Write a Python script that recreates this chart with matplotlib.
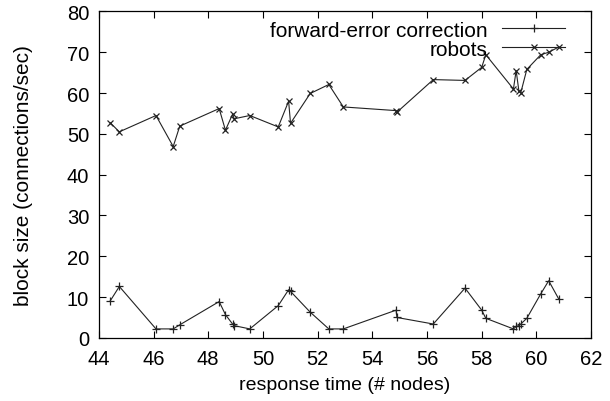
import numpy as np
import matplotlib
matplotlib.use('Agg')
import matplotlib.pyplot as plt

plt.rcParams['font.family'] = ['Liberation Sans', 'DejaVu Sans']

# datos
x = [44.42, 44.75, 46.09, 46.72, 46.96, 48.40, 48.63, 48.89, 48.95, 49.52,
     50.56, 50.94, 51.01, 51.73, 52.41, 52.94, 54.87, 54.90, 56.23, 57.39,
     58.00, 58.15, 59.16, 59.26, 59.36, 59.43, 59.65, 60.16, 60.45, 60.82]
fec = [9.1, 12.6, 2.2, 2.2, 3.2, 8.9, 5.7, 3.4, 3.0, 2.2,
       7.9, 11.8, 11.4, 6.3, 2.2, 2.2, 6.8, 5.0, 3.4, 12.2,
       6.8, 4.8, 2.2, 2.8, 3.0, 3.4, 4.8, 10.8, 14.0, 9.5]
robots = [52.7, 50.5, 54.5, 46.9, 51.9, 56.2, 50.9, 54.8, 53.7, 54.5,
          51.7, 58.0, 52.6, 59.9, 62.1, 56.6, 55.7, 55.3, 63.3, 63.1,
          66.3, 69.4, 61.0, 65.5, 60.5, 60.1, 65.8, 69.4, 70.0, 71.3]

xticks = np.arange(44, 63, 2)
yticks = np.arange(0, 81, 10)

fig = plt.figure(figsize=(6.1, 4.02), dpi=100)
ax = fig.add_axes([0.162, 0.157, 0.807, 0.812])

ax.plot(x, fec, color='#222222', lw=0.8, marker='+', ms=6, mew=0.9,
        label='forward-error correction')
ax.plot(x, robots, color='#222222', lw=0.8, marker='x', ms=5, mew=0.9,
        label='robots')

ax.set_xlim(44, 62)
ax.set_ylim(0, 80)
ax.set_xticks(xticks)
ax.set_yticks(yticks)
ax.tick_params(direction='in', top=True, right=True, length=5, width=0.8,
               labelsize=14.5)
ax.tick_params(axis='x', pad=8)
ax.tick_params(axis='y', pad=7)
for s in ax.spines.values():
    s.set_linewidth(0.9)

ax.set_xlabel('response time (# nodes)', fontsize=14, labelpad=6)
ax.set_ylabel('block size (connections/sec)', fontsize=15, labelpad=24)

ax.legend(loc='upper right', bbox_to_anchor=(0.955, 0.985), frameon=False,
          markerfirst=False, fontsize=15, handlelength=3.0, borderpad=0.2,
          borderaxespad=0, labelspacing=0.0, handletextpad=0.7)

plt.savefig('out.png', dpi=100)
